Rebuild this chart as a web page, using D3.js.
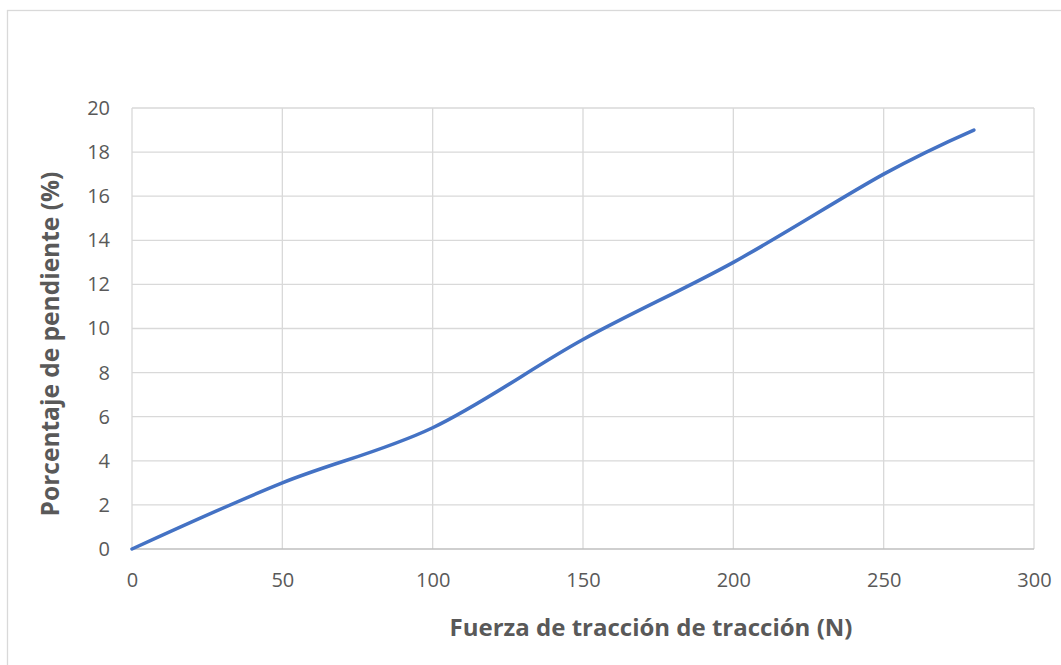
<!DOCTYPE html>
<html>
<head>
<meta charset="utf-8">
<script src="https://cdn.jsdelivr.net/npm/d3@7"></script>
<style>
  html, body { margin: 0; padding: 0; background: #fff; }
  svg { display: block; }
  text { font-family: "Open Sans", "Noto Sans", sans-serif; fill: #595959; }
</style>
</head>
<body>
<svg id="chart" width="1061" height="665"></svg>
<script>
// Tractive force (N) vs. slope percentage
const fuerza = [0, 50, 100, 150, 200, 250, 280];
const pendiente = [0, 3, 5.5, 9.5, 13, 17, 19];
const xTicks = [0, 50, 100, 150, 200, 250, 300];
const yTicks = [0, 2, 4, 6, 8, 10, 12, 14, 16, 18, 20];
const xTitle = "Fuerza de tracción de tracción (N)";
const yTitle = "Porcentaje de pendiente (%)";

const svg = d3.select("#chart");
const W = 1061, H = 665;
const m = { left: 132, right: 1034, top: 108, bottom: 549 };

// outer chart frame
svg.append("rect")
  .attr("x", 7.5).attr("y", 10.5)
  .attr("width", W + 10).attr("height", H + 10)
  .attr("fill", "#fff").attr("stroke", "#d9d9d9").attr("stroke-width", 1.3);

const x = d3.scaleLinear().domain([0, 300]).range([m.left, m.right]);
const y = d3.scaleLinear().domain([0, 20]).range([m.bottom, m.top]);

// gridlines
const grid = svg.append("g").attr("stroke", "#d9d9d9").attr("stroke-width", 1.3);
grid.selectAll("line.h").data(yTicks.filter(d => d > 0)).join("line")
  .attr("x1", m.left).attr("x2", m.right)
  .attr("y1", d => y(d)).attr("y2", d => y(d));
grid.selectAll("line.v").data(xTicks).join("line")
  .attr("y1", m.top).attr("y2", m.bottom)
  .attr("x1", d => x(d)).attr("x2", d => x(d));

// x axis baseline
svg.append("line")
  .attr("x1", m.left).attr("x2", m.right)
  .attr("y1", y(0)).attr("y2", y(0))
  .attr("stroke", "#bfbfbf").attr("stroke-width", 1.3);

// tick labels
const yAxis = svg.append("g").attr("transform", `translate(${m.left},0)`)
  .call(d3.axisLeft(y).tickValues(yTicks).tickSize(0).tickPadding(22));
yAxis.select(".domain").remove();
yAxis.selectAll("text").attr("font-size", 20).style("font-family", '"Open Sans", sans-serif').attr("fill", "#595959");

const xAxis = svg.append("g").attr("transform", `translate(0,${m.bottom})`)
  .call(d3.axisBottom(x).tickValues(xTicks).tickSize(0).tickPadding(24));
xAxis.select(".domain").remove();
xAxis.selectAll("text").attr("font-size", 20).style("font-family", '"Open Sans", sans-serif').attr("fill", "#595959");

// axis titles
svg.append("text")
  .attr("x", 651).attr("y", 636)
  .attr("text-anchor", "middle")
  .attr("font-size", 24).attr("font-weight", "bold")
  .text(xTitle);
svg.append("text")
  .attr("transform", `translate(59,344) rotate(-90)`)
  .attr("text-anchor", "middle")
  .attr("font-size", 24.5).attr("font-weight", "bold")
  .text(yTitle);

// smoothed data line
const line = d3.line()
  .x((d, i) => x(fuerza[i]))
  .y(d => y(d))
  .curve(d3.curveCardinal.tension(0));
svg.append("path")
  .datum(pendiente)
  .attr("d", line)
  .attr("fill", "none")
  .attr("stroke", "#4472c4")
  .attr("stroke-width", 3.5)
  .attr("stroke-linecap", "round");
</script>
</body>
</html>
